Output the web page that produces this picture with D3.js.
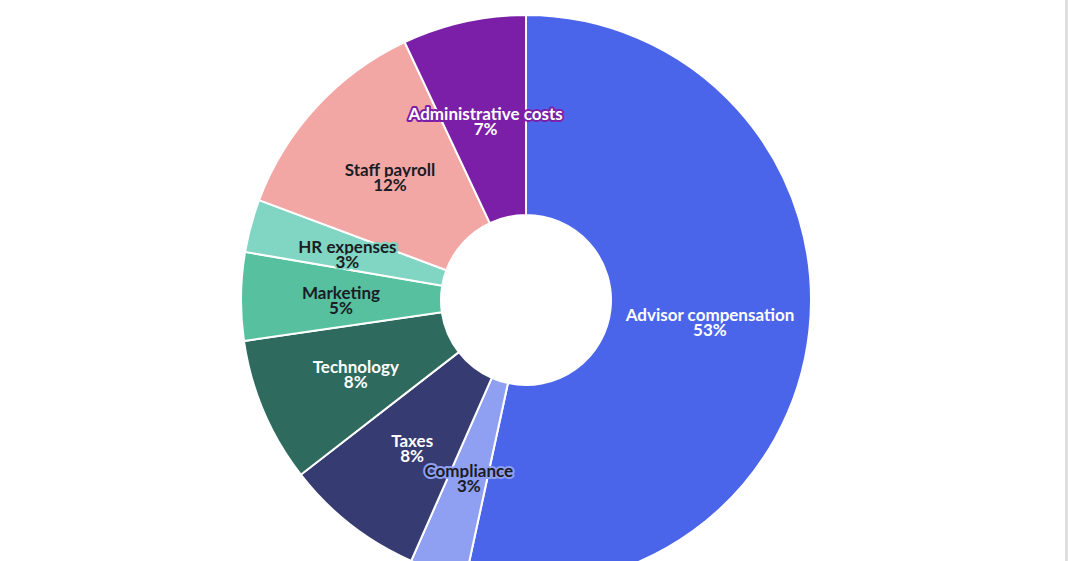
<!DOCTYPE html>
<meta charset="utf-8">
<script src="https://d3js.org/d3.v7.min.js"></script>
<style>
  body { margin: 0; background: #fff; overflow: hidden; }
  text { font-family: Lato, "Open Sans", sans-serif; }
</style>
<div id="my_dataviz"></div>
<script>

// data, clockwise from 12 o'clock
var categories = ["Advisor compensation", "Compliance", "Taxes", "Technology",
                  "Marketing", "HR expenses", "Staff payroll", "Administrative costs"];
var shares = [53.4, 3.2, 7.9, 8.2, 5.0, 3.0, 12.3, 7.0];
var colors = ["#4b65ea", "#8f9ff2", "#363c72", "#2e6b5e",
              "#56c09f", "#80d6c2", "#f2a7a5", "#7b1fa8"];
var darkText = [false, true, false, false, true, true, true, false];

var width = 1068, height = 561;
var cx = 526, cy = 300, outerR = 285, innerR = 85;

var svg = d3.select("#my_dataviz")
  .append("svg")
    .attr("width", width)
    .attr("height", height);

// thin grey strip on the right edge
svg.append("rect")
  .attr("x", width - 3).attr("y", 0)
  .attr("width", 3).attr("height", height)
  .attr("fill", "#dedede");

var g = svg.append("g")
  .attr("transform", "translate(" + cx + "," + cy + ")");

var data = categories.map(function(c, i) {
  return {name: c, value: shares[i], color: colors[i], dark: darkText[i]};
});

var pie = d3.pie()
  .sort(null)
  .value(function(d) { return d.value; });

var arc = d3.arc()
  .innerRadius(innerR)
  .outerRadius(outerR);

var arcs = pie(data);
var total = d3.sum(shares);

g.selectAll("path.slice")
  .data(arcs)
  .enter()
  .append("path")
    .attr("class", "slice")
    .attr("d", arc)
    .attr("fill", function(d) { return d.data.color; })
    .attr("stroke", "#fff")
    .attr("stroke-width", 2);

// labels with a halo in the slice colour
var labels = g.selectAll("g.label")
  .data(arcs)
  .enter()
  .append("g")
    .attr("class", "label")
    .attr("transform", function(d) {
      var c = arc.centroid(d);
      return "translate(" + c[0] + "," + c[1] + ")";
    });

function addLine(sel, txt, dy) {
  sel.append("text")
    .attr("text-anchor", "middle")
    .attr("y", dy)
    .style("font-size", "17px")
    .style("font-weight", "bold")
    .style("paint-order", "stroke")
    .attr("stroke", function(d) { return d.data.color; })
    .attr("stroke-width", 4)
    .attr("stroke-linejoin", "round")
    .attr("fill", function(d) { return d.data.dark ? "#1c1c24" : "#fff"; })
    .text(txt);
}

addLine(labels, function(d) { return d.data.name; }, 1);
addLine(labels, function(d) { return Math.round(d.data.value / total * 100) + "%"; }, 16);

</script>
